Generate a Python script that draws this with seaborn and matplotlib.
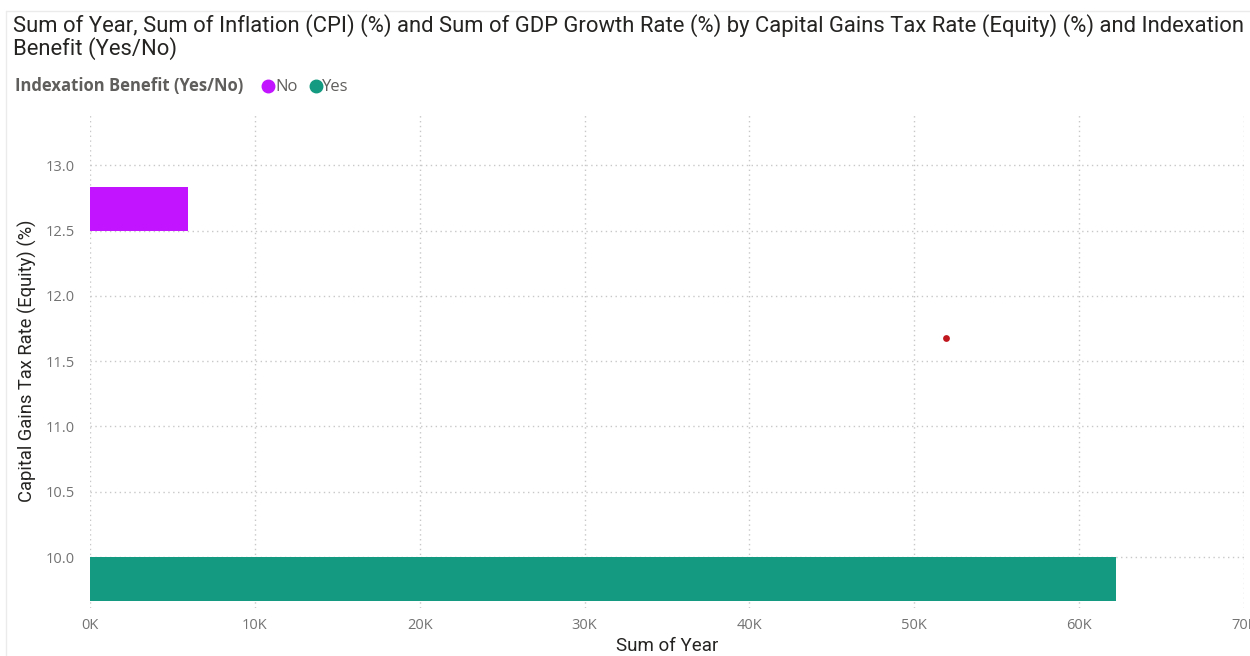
import numpy as np
import pandas as pd
import matplotlib
matplotlib.use("Agg")
import matplotlib.pyplot as plt
from matplotlib.lines import Line2D
import seaborn as sns

# ---- data ----
indexation = ["No", "Yes"]
tax_rate = [12.5, 10.0]            # Capital Gains Tax Rate (Equity) (%)
year_sum = [5960, 62240]           # Sum of Year
bar_colors = ["#C214FF", "#139A80"]

point_year = [51900]               # single highlighted point
point_rate = [11.68]

x_ticks = [0, 10000, 20000, 30000, 40000, 50000, 60000, 70000]
x_tick_labels = ["0K", "10K", "20K", "30K", "40K", "50K", "60K", "70K"]
y_ticks = [10.0, 10.5, 11.0, 11.5, 12.0, 12.5, 13.0]
y_tick_labels = ["10.0", "10.5", "11.0", "11.5", "12.0", "12.5", "13.0"]

# which side of the category value each bar grows towards
bar_anchor = {"No": "bottom", "Yes": "top"}

sns.set_theme(style="white")
plt.rcParams["font.family"] = ["Open Sans", "DejaVu Sans"]

W, H = 1250, 656
fig = plt.figure(figsize=(W / 100, H / 100), dpi=100)
fig.patch.set_facecolor("white")
ax = fig.add_axes([90 / W, 1 - 608 / H, (1244 - 90) / W, (608 - 113) / H])

df = pd.DataFrame({"indexation": indexation, "rate": tax_rate, "year": year_sum})
palette = dict(zip(indexation, bar_colors))

sns.barplot(data=df, x="year", y="rate", hue="indexation", orient="y",
            native_scale=True, palette=palette, width=0.1333, errorbar=None,
            saturation=1, linewidth=0, legend=False, ax=ax, zorder=3)

# put each bar on one side of its category value
for patch in ax.patches:
    h = patch.get_height()
    yc = patch.get_y() + h / 2
    i = int(np.argmin([abs(yc - r) for r in tax_rate]))
    if bar_anchor[indexation[i]] == "bottom":
        patch.set_y(tax_rate[i])
    else:
        patch.set_y(tax_rate[i] - h)

sns.scatterplot(x=point_year, y=point_rate, color="#C0161E", s=24,
                linewidth=0, ax=ax, zorder=4, legend=False)

ax.set_xlim(0, 70000)
ax.set_ylim(9.61, 13.40)
ax.set_xticks(x_ticks)
ax.set_xticklabels(x_tick_labels)
ax.set_yticks(y_ticks)
ax.set_yticklabels(y_tick_labels)

ax.grid(True, linestyle=(0, (1, 2.5)), color="#c8c8c8", linewidth=1)
ax.set_axisbelow(True)
for s in ax.spines.values():
    s.set_visible(False)
ax.tick_params(axis="both", length=0, colors="#737373", labelsize=10.5)
ax.tick_params(axis="y", pad=11)
ax.tick_params(axis="x", pad=7)

ax.set_xlabel("Sum of Year", fontsize=13.5, color="#252423",
              family=["Roboto", "DejaVu Sans"], labelpad=3)
ax.set_ylabel("Capital Gains Tax Rate (Equity) (%)", fontsize=13.2,
              color="#252423", family=["Roboto", "DejaVu Sans"], labelpad=6)

# title
title_font = dict(fontsize=15.8, color="#252423",
                  family=["Roboto", "DejaVu Sans"], va="baseline", ha="left")
fig.text(13 / W, 1 - 32 / H,
         "Sum of Year, Sum of Inflation (CPI) (%) and Sum of GDP Growth Rate (%) "
         "by Capital Gains Tax Rate (Equity) (%) and Indexation", **title_font)
fig.text(13 / W, 1 - 55 / H, "Benefit (Yes/No)", **title_font)

# legend row
fig.text(15 / W, 1 - 91 / H, "Indexation Benefit (Yes/No)", fontsize=12,
         fontweight="bold", color="#605E5C", va="baseline", ha="left")
legend_x = [268, 316]
text_x = [275, 322]
for lab, col, mx, tx in zip(indexation, bar_colors, legend_x, text_x):
    fig.add_artist(Line2D([mx / W], [1 - 86 / H], marker="o", markersize=9,
                          color=col, linestyle="none"))
    fig.text(tx / W, 1 - 91 / H, lab, fontsize=12, color="#605E5C",
             va="baseline", ha="left")

# faint visual frame
fig.add_artist(Line2D([6 / W, 1], [1 - 11 / H, 1 - 11 / H], color="#ebebeb", lw=1))
fig.add_artist(Line2D([6 / W, 6 / W], [0, 1 - 11 / H], color="#ebebeb", lw=1))

fig.savefig("out.png", dpi=100, facecolor="white")
